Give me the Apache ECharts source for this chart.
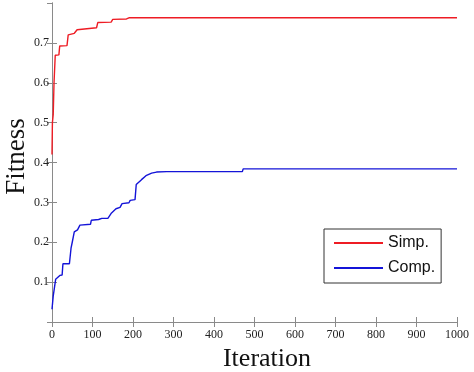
<!DOCTYPE html>
<html><head><meta charset="utf-8">
<script src="https://cdn.jsdelivr.net/npm/echarts@6/dist/echarts.min.js"></script>
<style>html,body{margin:0;padding:0;background:#fff}#c{width:474px;height:372px}</style>
</head><body><div id="c"></div>
<script>
const simpX = [0, 1, 3, 5, 8, 17, 19, 37, 40, 55, 62, 110, 113, 146, 150, 184, 190, 1000];
const simpY = [0.42, 0.50, 0.52, 0.60, 0.669, 0.670, 0.692, 0.693, 0.720, 0.724, 0.733, 0.738, 0.751, 0.752, 0.759, 0.760, 0.763, 0.763];
const compX = [0, 3, 5, 9, 12, 20, 25, 27, 43, 47, 50, 55, 63, 69, 95, 97, 115, 123, 138, 147, 158, 168, 173, 190, 193, 205, 208, 212, 221, 232, 246, 258, 283, 470, 472, 1000];
const compY = [0.032, 0.065, 0.07, 0.107, 0.112, 0.117, 0.118, 0.146, 0.146, 0.185, 0.2, 0.226, 0.231, 0.243, 0.245, 0.255, 0.257, 0.26, 0.26, 0.2735, 0.284, 0.2875, 0.297, 0.299, 0.305, 0.307, 0.345, 0.35, 0.357, 0.367, 0.3735, 0.376, 0.377, 0.377, 0.384, 0.384];
const seriesNames = ['Simp.', 'Comp.'];
const xTitle = 'Iteration';
const yTitle = 'Fitness';

const zip = (xs, ys) => xs.map((x, i) => [x, ys[i]]);
const axisGray = '#8a8a8a';
const serif = '"Liberation Serif", "Times New Roman", serif';

const chart = echarts.init(document.getElementById('c'));
chart.setOption({
  animation: false,
  backgroundColor: '#fff',
  grid: { left: 52, right: 17, top: 3, bottom: 50, containLabel: false, outerBoundsMode: 'none' },
  legend: {
    orient: 'vertical', left: 324, top: 229,
    padding: [6, 6, 7, 10],
    borderColor: '#333', borderWidth: 1, backgroundColor: '#fff',
    icon: 'rect', itemWidth: 49, itemHeight: 2, itemGap: 9,
    textStyle: { fontFamily: '"Liberation Sans", Arial, sans-serif', fontSize: 16, color: '#111', lineHeight: 16 },
    data: seriesNames
  },
  xAxis: [{
    type: 'value', min: 0, max: 1000, interval: 100,
    name: xTitle, nameLocation: 'middle', nameGap: 24, nameMoveOverlap: false,
    nameTextStyle: { fontFamily: serif, fontSize: 26, color: '#111', padding: [0, 0, 0, 25] },
    axisLine: { show: true, lineStyle: { color: axisGray } },
    axisTick: { show: true, inside: true, length: 5, lineStyle: { color: axisGray } },
    axisLabel: { fontFamily: serif, fontSize: 12, color: '#222', margin: 7, formatter: v => String(v) },
    splitLine: { show: false }
  }, {
    type: 'value', position: 'top', min: 0, max: 1000, interval: 100,
    axisLine: { show: true, lineStyle: { color: axisGray } },
    axisTick: { show: true, inside: true, length: 5, lineStyle: { color: axisGray } },
    axisLabel: { show: false }, splitLine: { show: false }
  }],
  yAxis: [{
    type: 'value', min: 0, max: 0.8, interval: 0.1,
    name: yTitle, nameLocation: 'middle', nameGap: 22, nameMoveOverlap: false,
    nameTextStyle: { fontFamily: serif, fontSize: 27, color: '#111', padding: [0, 0, 0, 12] },
    axisLine: { show: true, lineStyle: { color: axisGray } },
    axisTick: { show: true, inside: true, length: 5, lineStyle: { color: axisGray } },
    axisLabel: { fontFamily: serif, fontSize: 12, color: '#222', margin: 3, showMinLabel: false, showMaxLabel: false,
      formatter: v => v.toFixed(1) },
    splitLine: { show: false }
  }, {
    type: 'value', position: 'right', min: 0, max: 0.8, interval: 0.1,
    axisLine: { show: true, lineStyle: { color: axisGray } },
    axisTick: { show: true, inside: true, length: 5, lineStyle: { color: axisGray } },
    axisLabel: { show: false }, splitLine: { show: false }
  }],
  series: [{
    name: seriesNames[0], type: 'line', symbol: 'none', showSymbol: false,
    data: zip(simpX, simpY),
    lineStyle: { color: '#ee1c24', width: 1.4 }, itemStyle: { color: '#ee1c24' }
  }, {
    name: seriesNames[1], type: 'line', symbol: 'none', showSymbol: false,
    data: zip(compX, compY),
    lineStyle: { color: '#1414d8', width: 1.4 }, itemStyle: { color: '#1414d8' }
  }]
});
</script></body></html>
